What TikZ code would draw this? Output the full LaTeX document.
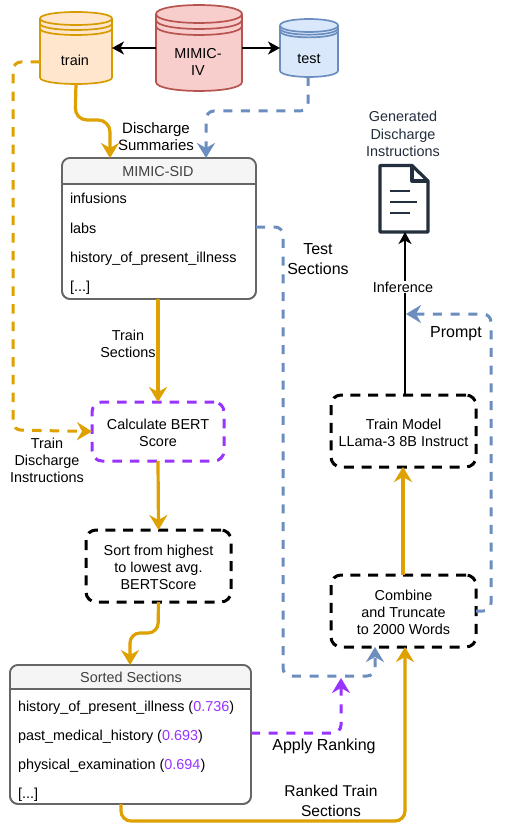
\documentclass[tikz,border=0pt]{standalone}
\usepackage{fontspec}
\setmainfont{Liberation Sans}
\usetikzlibrary{arrows.meta,calc}
\definecolor{orangeS}{HTML}{D79B00}
\definecolor{orangeL}{HTML}{DFA100}
\definecolor{orangeF}{HTML}{FFE6CC}
\definecolor{redS}{HTML}{B85450}
\definecolor{redF}{HTML}{F8CECC}
\definecolor{blueS}{HTML}{6C8EBF}
\definecolor{blueF}{HTML}{DAE8FC}
\definecolor{purp}{HTML}{9933FF}
\definecolor{navy}{HTML}{232F3E}
\definecolor{greyS}{HTML}{666666}
\definecolor{greyF}{HTML}{F5F5F5}
\newcommand{\fs}{\fontsize{14.4}{17.3}\selectfont}
\newcommand{\fb}{\fontsize{16}{20}\selectfont}
\newcommand{\pn}[1]{(\textcolor{purp}{#1})}
\newcommand{\dbcyl}[9]{% name x1 y1 x2 y2 ry offset fill stroke
  \pgfmathsetmacro{\cy}{#3+#6}
  \pgfmathsetmacro{\by}{#5-#6}
  \pgfmathsetmacro{\cu}{\cy-1.33*#6}
  \pgfmathsetmacro{\cd}{\by+1.33*#6}
  \filldraw[line width=1.7pt,draw=#9,fill=#8] (#2,\cy) .. controls (#2,\cu) and (#4,\cu) .. (#4,\cy) -- (#4,\by) .. controls (#4,\cd) and (#2,\cd) .. (#2,\by) -- cycle;
  \foreach \k in {0,1,2}{
    \pgfmathsetmacro{\yy}{\cy+\k*#7}
    \pgfmathsetmacro{\yc}{\yy+1.33*#6}
    \draw[line width=1.7pt,draw=#9] (#2,\yy) .. controls (#2,\yc) and (#4,\yc) .. (#4,\yy);
  }
  \node[minimum width={(#4-#2)*1pt},minimum height={(#5-#3)*1pt},inner sep=0pt,outer sep=0pt] (#1) at ({(#2+#4)/2},{(#3+#5)/2}) {};
}
\tikzset{
  x=1pt,y=-1pt,
  every node/.style={font=\fs,inner sep=0pt,outer sep=0pt,align=center},
  lab/.style={text=black},
  biglab/.style={text=black,font=\fb},
  bigtip/.style={-{Stealth[length=15pt,width=18pt,inset=5pt]}},
  orangeline/.style={line width=3.2pt,draw=orangeL,rounded corners=10pt,bigtip},
  orangedash/.style={line width=3pt,draw=orangeL,rounded corners=8pt,dash pattern=on 9.5pt off 8.2pt,bigtip},
  bluedash/.style={line width=3pt,draw=blueS,rounded corners=8pt,dash pattern=on 9pt off 8.7pt,bigtip},
  purpledash/.style={line width=3pt,draw=purp,rounded corners=8pt,dash pattern=on 9pt off 8.7pt,bigtip},
  blackline/.style={line width=1.7pt,draw=black,-{Stealth[length=12pt,width=13pt,inset=3.5pt]}},
  dashbox/.style={draw=black,line width=3pt,rounded corners=10pt,dash pattern=on 10pt off 7.6pt},
  purpbox/.style={draw=purp,line width=3pt,rounded corners=10pt,dash pattern=on 9.5pt off 8pt},
  tablebox/.style={draw=greyS,line width=1.7pt,rounded corners=8pt,fill=white},
  rowtext/.style={anchor=base west,text=black},
}
\begin{document}
\begin{tikzpicture}
\useasboundingbox (0,0) rectangle (506,837);
\fill[white] (0,0) rectangle (506,837);

% databases
\dbcyl{train}{40}{12}{112}{84}{6.5}{5}{orangeF}{orangeS}
\dbcyl{mimic}{156}{5}{242}{91}{9}{6}{redF}{redS}
\dbcyl{test}{280}{19}{338}{77}{6.5}{2.7}{blueF}{blueS}
\node[lab] (trainlab) at (75,60) {train};
\node[lab] (mimiclab) at (198,62) {MIMIC-\\IV};
\node[lab] (testlab) at (309,59) {test};

% MIMIC-SID table
\node[tablebox,minimum width=194pt,minimum height=141pt] (sid) at (159,228.5) {};
\fill[greyF,rounded corners=8pt] (sid.north west) -- (sid.north east) -- (sid.east |- 0,184) -- (sid.west |- 0,184) -- cycle;
\fill[greyF] (62,175) rectangle (256,184);
\draw[draw=greyS,line width=1.7pt,rounded corners=8pt] (sid.south west) rectangle (sid.north east);
\draw[draw=greyS,line width=1.7pt] (sid.west |- 0,184) -- (sid.east |- 0,184);
\node[text=black!75,anchor=base] (sidhead) at (158,176) {MIMIC-SID};
\node[rowtext] (s1) at (70,204) {infusions};
\node[rowtext] (s2) at (70,233) {labs};
\node[rowtext] (s3) at (70,262) {history\_of\_present\_illness};
\node[rowtext] (s4) at (70,291) {[...]};

% Sorted table
\node[tablebox,minimum width=241pt,minimum height=139pt] (sorted) at (130.5,734.5) {};
\fill[greyF,rounded corners=8pt] (sorted.north west) -- (sorted.north east) -- (sorted.east |- 0,689) -- (sorted.west |- 0,689) -- cycle;
\fill[greyF] (10,680) rectangle (251,689);
\draw[draw=greyS,line width=1.7pt,rounded corners=8pt] (sorted.south west) rectangle (sorted.north east);
\draw[draw=greyS,line width=1.7pt] (sorted.west |- 0,689) -- (sorted.east |- 0,689);
\node[text=black!75,anchor=base] (sortedhead) at (131,682) {Sorted Sections};
\node[rowtext] (r1) at (18,711) {history\_of\_present\_illness \pn{0.736}};
\node[rowtext] (r2) at (18,740) {past\_medical\_history \pn{0.693}};
\node[rowtext] (r3) at (18,769) {physical\_examination \pn{0.694}};
\node[rowtext] (r4) at (18,798) {[...]};

% process boxes
\node[purpbox,minimum width=132pt,minimum height=59pt] (bert) at (158,431.5) {};
\node[lab] (bertlab) at (158,433) {Calculate BERT\\Score};
\node[dashbox,minimum width=145pt,minimum height=72pt] (sort) at (158.5,566) {};
\node[lab] (sortlab) at (158.5,567.5) {Sort from highest\\to lowest avg.\\BERTScore};
\node[dashbox,minimum width=145pt,minimum height=72pt] (combine) at (403.5,611) {};
\node[lab] (combinelab) at (403.5,612.5) {Combine\\and Truncate\\to 2000 Words};
\node[dashbox,minimum width=145pt,minimum height=72pt] (model) at (403.5,431) {};
\node[lab] (modellab) at (403.5,433) {Train Model\\LLama-3 8B Instruct};

% document icon
\node[minimum width=49pt,minimum height=67pt] (doc) at (403.5,198.5) {};
\draw[navy,line width=3.2pt,line join=round] (412,165.5) -- (380,165.5) -- (380,232) -- (428,232) -- (428,181) -- cycle;
\draw[navy,line width=3.2pt,line join=round] (412,165.5) -- (412,181) -- (428,181);
\draw[navy,line width=2.6pt] (390,191) -- (410,191) (390,202) -- (417,202) (390,213) -- (410,213);
\node[text=navy] (gen) at (403,134) {Generated\\Discharge\\Instructions};

% connectors
\draw[blackline] (mimic.west |- 0,48) -- (train.east |- 0,48);
\draw[blackline] (mimic.east |- 0,48) -- (test.west |- 0,48);
\draw[orangeline,rounded corners=12pt] (train.south) -- (75,120) -- (110,120) -- (110,0 |- sid.north);
\draw[bluedash] (308,0 |- test.south) -- (308,111) -- (206,111) -- (206,0 |- sid.north);
\draw[orangedash] (train.west |- 0,62) -- (13,62) -- (13,430) -- (bert.west);
\draw[orangeline] (sid.south -| bert.north) -- (bert.north);
\draw[orangeline] (bert.south) -- (sort.north);
\draw[orangeline] (sort.south) -- (158,633) -- (130,633) -- (130,0 |- sorted.north);
\draw[orangeline] (121,0 |- sorted.south) -- (121,821) -- (405,821) -- (405,0 |- combine.south);
\draw[orangeline] (403,0 |- combine.north) -- (403,0 |- model.south);
\draw[blackline] (405,0 |- model.north) -- (405,0 |- doc.south);
\draw[bluedash] (sid.east |- 0,227) -- (283,227) -- (283,676) -- (375,676) -- (375,0 |- combine.south);
\draw[purpledash] (sorted.east |- 0,733) -- (341,733) -- (341,678);
\draw[bluedash] (combine.east |- 0,611) -- (491,611) -- (491,314) -- (406,314);

% labels
\node[lab,font=\fontsize{15}{17.3}\selectfont] (l1) at (156,136.5) {Discharge\\Summaries};
\node[lab] (l2) at (128,343.5) {Train\\Sections};
\node[lab] (l3) at (47,460.5) {Train\\Discharge\\Instructions};
\node[biglab] (l4) at (318,259) {Test\\Sections};
\node[lab,fill=white,inner ysep=1pt] (l5) at (403,287) {Inference};
\node[biglab] (l6) at (456,334) {Prompt};
\node[biglab] (l7) at (324,746.5) {Apply Ranking};
\node[biglab,font=\fontsize{15.6}{20}\selectfont] (l8) at (331,800.5) {Ranked Train\\Sections};
\end{tikzpicture}
\end{document}
